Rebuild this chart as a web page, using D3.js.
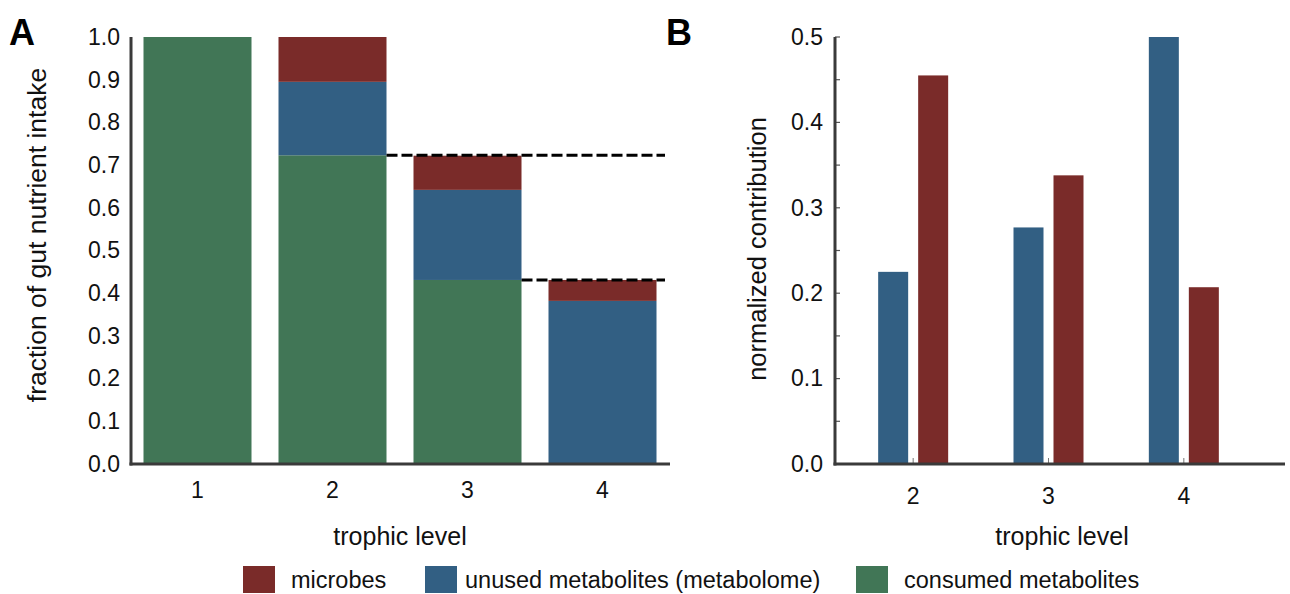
<!DOCTYPE html>
<html>
<head>
<meta charset="utf-8">
<script src="https://cdn.jsdelivr.net/npm/d3@7"></script>
<style>
  body { margin: 0; background: #fff; }
  svg { display: block; font-family: "Liberation Sans", Arial, sans-serif; }
</style>
</head>
<body>
<script>
// panel A: stacked fractions per trophic level
const levelsA = ["1", "2", "3", "4"];
const consumedA = [1.0, 0.723, 0.431, 0.0];
const unusedA = [0.0, 0.172, 0.211, 0.382];
const microbesA = [0.0, 0.105, 0.080, 0.049];
const yTicksA = [0, 0.1, 0.2, 0.3, 0.4, 0.5, 0.6, 0.7, 0.8, 0.9, 1.0];

// panel B: normalized contributions
const levelsB = ["2", "3", "4"];
const unusedB = [0.225, 0.277, 0.5];
const microbesB = [0.455, 0.338, 0.207];
const yTicksB = [0, 0.1, 0.2, 0.3, 0.4, 0.5];

const legendLabels = ["microbes", "unused metabolites (metabolome)", "consumed metabolites"];

const colors = { microbes: "#7a2b29", unused: "#325f83", consumed: "#417656" };
const axisColor = "#3a3a3a";
const tickFont = 23, titleFont = 25;

const width = 1290, height = 594;
const svg = d3.select("body").append("svg").attr("width", width).attr("height", height);

// ---------- Panel A ----------
const xA = d3.scaleBand().domain(levelsA).range([130, 670]).paddingInner(0.2).paddingOuter(0.1);
const yA = d3.scaleLinear().domain([0, 1]).range([464, 37]);

const stackData = levelsA.map((l, i) => ({
  level: l, consumed: consumedA[i], unused: unusedA[i], microbes: microbesA[i]
}));
const series = d3.stack().keys(["consumed", "unused", "microbes"])(stackData);

svg.append("g").selectAll("g")
  .data(series)
  .join("g")
  .attr("fill", d => colors[d.key])
  .selectAll("rect")
  .data(d => d)
  .join("rect")
  .attr("x", d => xA(d.data.level))
  .attr("width", xA.bandwidth())
  .attr("y", d => yA(d[1]))
  .attr("height", d => yA(d[0]) - yA(d[1]));

// dashed lines: what the next level receives
const dashed = [
  { y: consumedA[1], from: xA("2") + xA.bandwidth() },
  { y: consumedA[2], from: xA("3") + xA.bandwidth() }
];
svg.append("g").selectAll("line")
  .data(dashed)
  .join("line")
  .attr("x1", d => d.from)
  .attr("x2", 665)
  .attr("y1", d => yA(d.y))
  .attr("y2", d => yA(d.y))
  .attr("stroke", "#000")
  .attr("stroke-width", 3)
  .attr("stroke-dasharray", "11,4");

const axAy = svg.append("g").attr("transform", "translate(131,0)")
  .call(d3.axisLeft(yA).tickValues(yTicksA).tickFormat(d3.format(".1f")).tickSize(0).tickPadding(11));
axAy.select(".domain").remove();
axAy.selectAll("text").attr("font-size", tickFont).attr("fill", "#111");

const axAx = svg.append("g").attr("transform", "translate(0,464)")
  .call(d3.axisBottom(xA).tickSize(0).tickPadding(18));
axAx.select(".domain").remove();
axAx.selectAll("text").attr("font-size", tickFont).attr("fill", "#111");

svg.append("line").attr("x1", 131).attr("x2", 131).attr("y1", 37).attr("y2", 465.5)
  .attr("stroke", axisColor).attr("stroke-width", 3);
svg.append("line").attr("x1", 129.5).attr("x2", 670).attr("y1", 464).attr("y2", 464)
  .attr("stroke", axisColor).attr("stroke-width", 3);

svg.append("text").attr("x", 400).attr("y", 545).attr("text-anchor", "middle")
  .attr("font-size", titleFont).attr("fill", "#111").text("trophic level");
svg.append("text").attr("transform", "translate(46,235) rotate(-90)").attr("text-anchor", "middle")
  .attr("font-size", 26.5).attr("fill", "#111").text("fraction of gut nutrient intake");

svg.append("text").attr("x", 9).attr("y", 45).attr("font-size", 36).attr("font-weight", "bold")
  .text("A");

// ---------- Panel B ----------
const xB = d3.scaleBand().domain(levelsB).range([845.5, 1251.5]);
const subB = d3.scaleBand().domain(["unused", "microbes"]).range([-35, 35]).paddingInner(0.25);
const yB = d3.scaleLinear().domain([0, 0.5]).range([464, 37]);

const barsB = [];
levelsB.forEach((l, i) => {
  barsB.push({ level: l, key: "unused", value: unusedB[i] });
  barsB.push({ level: l, key: "microbes", value: microbesB[i] });
});

svg.append("g").selectAll("rect")
  .data(barsB)
  .join("rect")
  .attr("x", d => xB(d.level) + xB.bandwidth() / 2 + subB(d.key))
  .attr("width", subB.bandwidth())
  .attr("y", d => yB(d.value))
  .attr("height", d => yB(0) - yB(d.value))
  .attr("fill", d => colors[d.key]);

const axBy = svg.append("g").attr("transform", "translate(835,0)")
  .call(d3.axisLeft(yB).tickValues(yTicksB).tickFormat(d3.format(".1f")).tickSize(0).tickPadding(12));
axBy.select(".domain").remove();
axBy.selectAll("text").attr("font-size", tickFont).attr("fill", "#111");

// small inward ticks every 0.05
svg.append("g").selectAll("line")
  .data(d3.range(0, 11).map(i => i * 0.05))
  .join("line")
  .attr("x1", 835).attr("x2", 840)
  .attr("y1", d => yB(d)).attr("y2", d => yB(d))
  .attr("stroke", "#555").attr("stroke-width", 1.2);

const axBx = svg.append("g").attr("transform", "translate(0,464)")
  .call(d3.axisBottom(xB).tickSize(-6).tickPadding(24));
axBx.select(".domain").remove();
axBx.selectAll("line").attr("stroke", "#777").attr("stroke-width", 1);
axBx.selectAll("text").attr("font-size", tickFont).attr("fill", "#111");

svg.append("line").attr("x1", 835).attr("x2", 835).attr("y1", 37).attr("y2", 465.5)
  .attr("stroke", axisColor).attr("stroke-width", 3);
svg.append("line").attr("x1", 833.5).attr("x2", 1285).attr("y1", 464).attr("y2", 464)
  .attr("stroke", axisColor).attr("stroke-width", 3);

svg.append("text").attr("x", 1062).attr("y", 545).attr("text-anchor", "middle")
  .attr("font-size", titleFont).attr("fill", "#111").text("trophic level");
svg.append("text").attr("transform", "translate(766,249) rotate(-90)").attr("text-anchor", "middle")
  .attr("font-size", 25.5).attr("fill", "#111").text("normalized contribution");

svg.append("text").attr("x", 666).attr("y", 45).attr("font-size", 36).attr("font-weight", "bold")
  .text("B");

// ---------- Legend ----------
const legendKeys = ["microbes", "unused", "consumed"];
const legendX = [243, 425, 856];
const legend = svg.append("g").selectAll("g")
  .data(legendKeys)
  .join("g")
  .attr("transform", (d, i) => `translate(${legendX[i]},566)`);
legend.append("rect").attr("width", 32).attr("height", 27).attr("fill", d => colors[d]);
legend.append("text").attr("x", (d, i) => i === 0 ? 48 : (i === 1 ? 40 : 48)).attr("y", 22)
  .attr("font-size", 23.5).attr("fill", "#111")
  .text((d, i) => legendLabels[i]);
</script>
</body>
</html>
